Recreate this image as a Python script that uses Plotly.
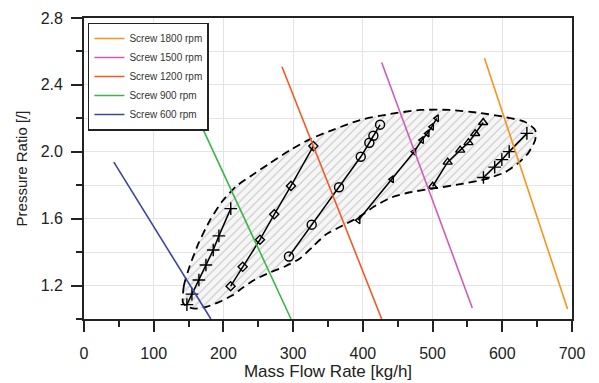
import plotly.graph_objects as go

# ---------------- data ----------------
speed_names = ["Screw 1800 rpm", "Screw 1500 rpm", "Screw 1200 rpm", "Screw 900 rpm", "Screw 600 rpm"]
speed_colors = ["#F7941D", "#CF5DB8", "#F15A24", "#3DB54A", "#3B469C"]
speed_x = [[574.5, 693.6], [427.0, 557.0], [284.0, 427.0], [130.0, 297.0], [42.8, 182.0]]
speed_y = [[2.56, 1.06], [2.534, 1.066], [2.508, 1.0], [2.50, 1.0], [1.938, 1.0]]

# envelope (dashed hatched region)
env_x = [141.9, 143.3, 151.9, 164.8, 180.6, 198.3, 218.4, 241.0, 266.8, 295.5, 324.2, 360.1,
         396.0, 439.1, 482.1, 525.2, 568.3, 604.2, 632.9, 647.2, 647.2, 637.2, 622.8, 604.2,
         575.5, 539.6, 503.7, 467.8, 442.0, 419.0, 396.0, 371.6, 347.2, 328.5, 309.8, 288.3,
         266.8, 245.3, 228.1, 212.3, 195.0, 176.4, 159.1, 147.6, 141.9]
env_y = [1.098, 1.200, 1.320, 1.458, 1.590, 1.704, 1.794, 1.860, 1.932, 2.010, 2.076, 2.136,
         2.190, 2.226, 2.250, 2.250, 2.232, 2.208, 2.178, 2.130, 2.070, 1.992, 1.932, 1.878,
         1.836, 1.806, 1.782, 1.758, 1.728, 1.680, 1.614, 1.560, 1.506, 1.434, 1.362, 1.314,
         1.278, 1.236, 1.188, 1.140, 1.104, 1.074, 1.062, 1.074, 1.098]

# measured operating lines
cross_x = [147.6, 154.8, 164.8, 174.9, 185.4, 193.5, 210.5]
cross_y = [1.086, 1.149, 1.233, 1.323, 1.413, 1.497, 1.660]
diam_x = [210.3, 227.6, 252.4, 272.9, 296.9, 329.0]
diam_y = [1.196, 1.312, 1.474, 1.626, 1.796, 2.034]
circ_x = [294.0, 326.6, 365.8, 397.0, 409.3, 415.1, 424.7]
circ_y = [1.374, 1.564, 1.788, 1.970, 2.054, 2.096, 2.162]
tril_x = [393.5, 441.5, 473.5, 484.6, 492.6, 498.9, 506.1]
tril_y = [1.590, 1.836, 2.000, 2.070, 2.110, 2.150, 2.200]
triu_x = [500.1, 521.6, 539.6, 551.5, 561.1, 572.6]
triu_y = [1.794, 1.938, 2.010, 2.055, 2.109, 2.175]
plus_x = [573.0, 589.1, 599.4, 609.9, 635.3]
plus_y = [1.846, 1.908, 1.953, 2.001, 2.110]

x_ticks = [0, 100, 200, 300, 400, 500, 600, 700]
y_ticks = [1.2, 1.6, 2.0, 2.4, 2.8]
y_tick_text = ["1.2", "1.6", "2.0", "2.4", "2.8"]
y_minor = [1.0, 1.4, 1.8, 2.2, 2.6]

FONT = "Liberation Sans, Arial, sans-serif"

fig = go.Figure()

# envelope
fig.add_trace(go.Scatter(
    x=env_x, y=env_y, mode="lines", fill="toself",
    fillcolor="rgba(246,246,246,1)",
    fillpattern=dict(shape="/", size=6, solidity=0.16, fgcolor="#8e8e8e", bgcolor="rgba(246,246,246,1)"),
    line=dict(color="black", width=1.8, dash="8px,5px", shape="spline", smoothing=0.6),
    showlegend=False, hoverinfo="skip"))

# measured lines
series = [
    (cross_x, cross_y, "cross-thin", 9),
    (diam_x, diam_y, "diamond-open", 7),
    (circ_x, circ_y, "circle-open", 9),
    (tril_x, tril_y, "triangle-left-open", 6),
    (triu_x, triu_y, "triangle-up-open", 8),
    (plus_x, plus_y, "cross-thin", 9),
]
for sx, sy, sym, sz in series:
    fig.add_trace(go.Scatter(
        x=sx, y=sy, mode="lines+markers",
        line=dict(color="black", width=1.5),
        marker=dict(symbol=sym, size=sz, color="black", line=dict(color="black", width=1.4)),
        showlegend=False, hoverinfo="skip"))

# speed lines
for name, col, sx, sy in zip(speed_names, speed_colors, speed_x, speed_y):
    fig.add_trace(go.Scatter(
        x=sx, y=sy, mode="lines", name=name,
        line=dict(color=col, width=1.6)))

# the page body adds an 8px margin, so the figure is 8px smaller than the window
fig.update_layout(
    width=591, height=375,
    margin=dict(l=76, r=27, t=10, b=64),
    paper_bgcolor="white", plot_bgcolor="white",
    font=dict(family=FONT, color="#222", size=16),
    legend=dict(
        x=0.008, y=0.985, xanchor="left", yanchor="top",
        bgcolor="white", bordercolor="#222", borderwidth=1.5,
        font=dict(size=10, color="#333"), itemwidth=30, tracegroupgap=0),
)

fig.update_xaxes(
    range=[0, 700], tickvals=x_ticks, ticks="outside", ticklen=11, tickwidth=1.5,
    tickcolor="#222", showline=True, linecolor="#222", linewidth=1.8, mirror=True,
    showgrid=True, gridcolor="#e4e4e4", gridwidth=1.2, zeroline=False, automargin=False,
    tickfont=dict(size=16), ticklabelstandoff=8,
    minor=dict(dtick=50, tick0=50, ticks="outside", ticklen=6, tickwidth=1.5, tickcolor="#222", showgrid=False),
    title=dict(text="Mass Flow Rate [kg/h]", font=dict(size=17), standoff=1),
)
fig.update_yaxes(
    range=[1.0, 2.8], tickvals=y_ticks, ticktext=y_tick_text,
    ticks="outside", ticklen=11, tickwidth=1.5,
    tickcolor="#222", showline=True, linecolor="#222", linewidth=1.8, mirror=True,
    showgrid=True, gridcolor="#e4e4e4", gridwidth=1.2, zeroline=False, automargin=False,
    tickfont=dict(size=16), ticklabelstandoff=5,
    minor=dict(tickvals=y_minor, ticks="outside", ticklen=6, tickwidth=1.5, tickcolor="#222",
               showgrid=True, gridcolor="#e4e4e4", gridwidth=1.2),
    title=dict(text="Pressure Ratio [/]", font=dict(size=15), standoff=9),
)

fig.write_html("out.html")
